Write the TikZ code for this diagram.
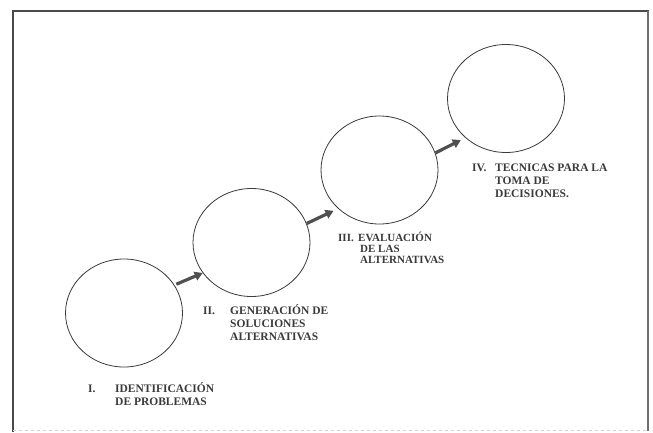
\documentclass[tikz,border=0pt]{standalone}
\usepackage{fontspec}
\setmainfont{Liberation Serif}
\usetikzlibrary{shapes.geometric,arrows.meta}
\definecolor{ink}{HTML}{3A3A3A}
\definecolor{framec}{HTML}{4A4A4A}
\definecolor{arrc}{HTML}{505050}
\begin{document}
\begin{tikzpicture}[x=1pt,y=-1pt,
  stage/.style={ellipse, draw=ink, line width=0.8pt, minimum width=117pt, minimum height=108pt, inner sep=0pt},
  lbl/.style={anchor=base west, inner sep=0pt, text=ink, font=\fontsize{11.5}{13}\selectfont\bfseries},
  arr/.style={draw=arrc, line width=3.2pt, -{Triangle[length=8pt,width=9pt]}}]
\useasboundingbox (0,0) rectangle (653,432);
\fill[white] (0,0) rectangle (653,432);
% frame
\draw[framec, line width=2.6pt, line cap=rect] (13,431) -- (13,11) -- (648,11);
\draw[framec!80, line width=1.6pt] (648,11) -- (648,431);
\draw[gray!35, line width=0.8pt, dashed] (13,430.5) -- (648,430.5);
% stages
\node[stage] (s1) at (124,313) {};
\node[stage] (s2) at (251.5,242.5) {};
\node[stage] (s3) at (379.5,170) {};
\node[stage] (s4) at (506,98.5) {};
% arrows
\draw[arr, shorten <=2pt] (s1.29) -- (s2.212);
\draw[arr, shorten >=5pt] (s2.19) -- (s3.223);
\draw[arr, shorten >=5pt] (s3.17) -- (s4.224);
% labels
\node[lbl] (l1) at (88,392) {\begin{tabular}[t]{@{}l@{}}\makebox[27pt][l]{I.}IDENTIFICACIÓN\\\hspace*{27pt}DE PROBLEMAS\end{tabular}};
\node[lbl] (l2) at (203,314) {\begin{tabular}[t]{@{}l@{}}\makebox[27pt][l]{II.}GENERACIÓN DE\\\hspace*{27pt}SOLUCIONES\\\hspace*{27pt}ALTERNATIVAS\end{tabular}};
\node[lbl, font=\fontsize{11}{11}\selectfont\bfseries] (l3) at (338,241) {\begin{tabular}[t]{@{}l@{}}\makebox[20pt][l]{III.}EVALUACIÓN\\\hspace*{22pt}DE LAS\\\hspace*{22pt}ALTERNATIVAS\end{tabular}};
\node[lbl] (l4) at (472,171) {\begin{tabular}[t]{@{}l@{}}\makebox[23pt][l]{IV.}TECNICAS PARA LA\\\hspace*{23pt}TOMA DE\\\hspace*{23pt}DECISIONES.\end{tabular}};
\end{tikzpicture}
\end{document}
